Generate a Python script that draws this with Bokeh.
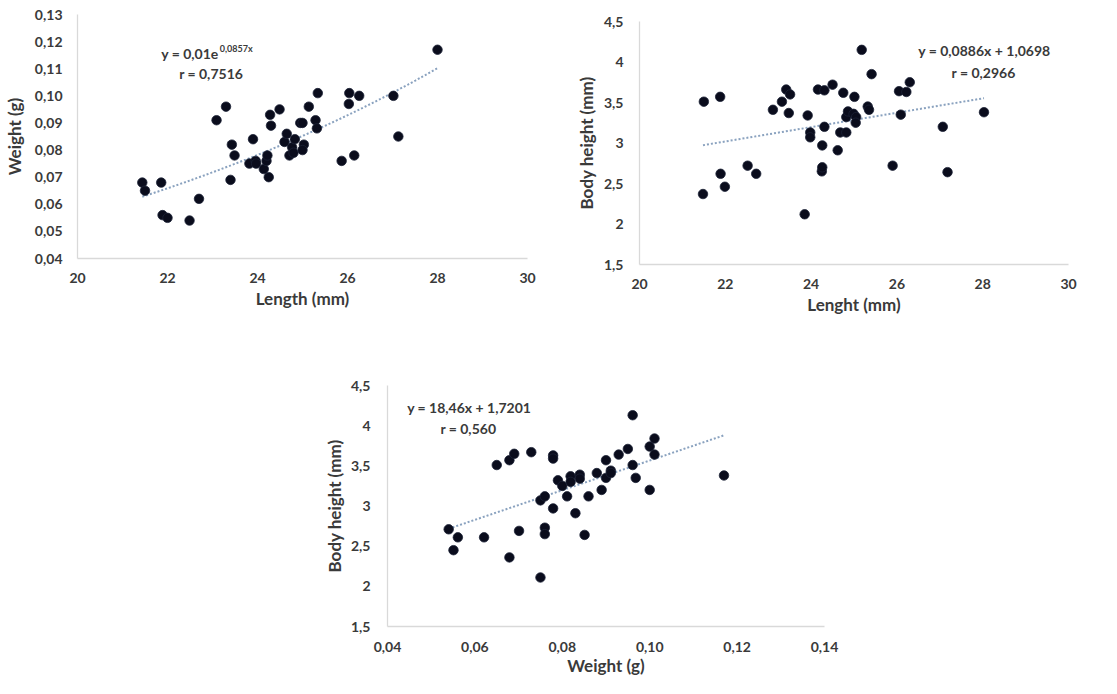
from bokeh.plotting import figure
from bokeh.layouts import column, row
from bokeh.models import Spacer, FixedTicker, Range1d, Label
from bokeh.embed import file_html
from bokeh.resources import INLINE

# ---------------- data ----------------
# Plot 1: Length (mm) vs Weight (g)
len1 = [21.44, 21.50, 21.86, 21.89, 22.00, 22.49, 22.70, 23.09, 23.30, 23.40,
        23.43, 23.49, 23.82, 23.90, 23.96, 23.97, 24.14, 24.20, 24.22, 24.25,
        24.28, 24.30, 24.49, 24.60, 24.65, 24.71, 24.77, 24.80, 24.83, 24.95,
        25.00, 25.03, 25.00, 25.14, 25.29, 25.32, 25.34, 25.87, 26.04, 26.03,
        26.15, 26.26, 27.02, 27.13, 28.00]
wt1 = [0.068, 0.065, 0.068, 0.056, 0.055, 0.054, 0.062, 0.091, 0.096, 0.069,
       0.082, 0.078, 0.075, 0.084, 0.076, 0.075, 0.073, 0.076, 0.078, 0.070,
       0.093, 0.089, 0.095, 0.083, 0.086, 0.078, 0.081, 0.079, 0.084, 0.090,
       0.090, 0.082, 0.080, 0.096, 0.091, 0.088, 0.101, 0.076, 0.101, 0.097,
       0.078, 0.100, 0.100, 0.085, 0.117]
exp_a, exp_b = 0.01, 0.0857          # y = 0,01e^(0,0857x)

# Plot 2: Length (mm) vs Body height (mm)
len2 = [21.50, 21.48, 21.88, 21.89, 21.99, 22.52, 22.72, 23.11, 23.32, 23.42,
        23.51, 23.48, 23.85, 23.92, 23.98, 23.98, 24.16, 24.25, 24.26, 24.26,
        24.31, 24.31, 24.50, 24.62, 24.68, 24.75, 24.82, 24.82, 24.86, 24.99,
        25.01, 25.05, 25.04, 25.18, 25.32, 25.35, 25.41, 25.90, 26.05, 26.09,
        26.22, 26.30, 27.07, 27.18, 28.03]
bh2 = [3.51, 2.37, 3.57, 2.62, 2.46, 2.72, 2.62, 3.41, 3.51, 3.66,
       3.60, 3.37, 2.12, 3.34, 3.13, 3.07, 3.66, 2.65, 2.70, 2.97,
       3.65, 3.20, 3.72, 2.91, 3.13, 3.62, 3.13, 3.32, 3.39, 3.36,
       3.57, 3.32, 3.25, 4.15, 3.45, 3.41, 3.85, 2.72, 3.64, 3.35,
       3.63, 3.75, 3.20, 2.64, 3.38]
lin2_a, lin2_b = 0.0886, 1.0698      # y = 0,0886x + 1,0698

# Plot 3: Weight (g) vs Body height (mm)
wt3 = [0.0540, 0.0551, 0.0561, 0.0621, 0.0650, 0.0679, 0.0679, 0.0690, 0.0701, 0.0729,
       0.0750, 0.0750, 0.0760, 0.0760, 0.0760, 0.0779, 0.0779, 0.0779, 0.0790, 0.0800,
       0.0811, 0.0819, 0.0819, 0.0830, 0.0840, 0.0840, 0.0851, 0.0860, 0.0879, 0.0890,
       0.0900, 0.0900, 0.0911, 0.0911, 0.0929, 0.0950, 0.0961, 0.0961, 0.0968, 0.1000,
       0.1000, 0.1011, 0.1011, 0.1170]
bh3 = [2.71, 2.45, 2.61, 2.61, 3.51, 3.57, 2.36, 3.65, 2.69, 3.67,
       3.07, 2.11, 3.12, 2.73, 2.65, 3.63, 3.59, 2.97, 3.32, 3.25,
       3.12, 3.37, 3.30, 2.91, 3.39, 3.34, 2.64, 3.12, 3.41, 3.20,
       3.57, 3.35, 3.44, 3.41, 3.64, 3.71, 4.13, 3.51, 3.35, 3.74,
       3.20, 3.84, 3.64, 3.38]
lin3_a, lin3_b = 18.46, 1.7201       # y = 18,46x + 1,7201

# ticks
x12_ticks = [20, 22, 24, 26, 28, 30]
x12_labels = ["20", "22", "24", "26", "28", "30"]
y1_ticks = [0.04, 0.05, 0.06, 0.07, 0.08, 0.09, 0.10, 0.11, 0.12, 0.13]
y1_labels = ["0,04", "0,05", "0,06", "0,07", "0,08", "0,09", "0,10", "0,11", "0,12", "0,13"]
bh_ticks = [1.5, 2, 2.5, 3, 3.5, 4, 4.5]
bh_labels = ["1,5", "2", "2,5", "3", "3,5", "4", "4,5"]
x3_ticks = [0.04, 0.06, 0.08, 0.10, 0.12, 0.14]
x3_labels = ["0,04", "0,06", "0,08", "0,10", "0,12", "0,14"]

eq1_main, eq1_sup, r1 = "y = 0,01e", "0,0857x", "r = 0,7516"
eq2, r2 = "y = 0,0886x + 1,0698", "r = 0,2966"
eq3, r3 = "y = 18,46x + 1,7201", "r = 0,560"

# ---------------- style ----------------
FONT = "Lato"
TICK_COL = "#3a3a3a"
AX_COL = "#d9d9d9"
DOT_FILL = "#0a0c1c"
TREND_COL = "#8aa2bf"


def make_fig(w, h, xr, yr, xt, xl, yt, yl, xlabel, ylabel, bl, br, bt, bb,
             xstand=14, ystand=15, ylab_stand=10, xlab_stand=2):
    p = figure(width=w, height=h, x_range=Range1d(*xr), y_range=Range1d(*yr),
               output_backend="svg", toolbar_location=None,
               min_border_left=bl, min_border_right=br,
               min_border_top=bt, min_border_bottom=bb)
    p.outline_line_color = None
    p.grid.visible = False
    p.xaxis.ticker = FixedTicker(ticks=xt)
    p.yaxis.ticker = FixedTicker(ticks=yt)
    p.xaxis.major_label_overrides = dict(zip(xt, xl))
    p.yaxis.major_label_overrides = dict(zip(yt, yl))
    for ax in (p.xaxis, p.yaxis):
        ax.axis_line_color = AX_COL
        ax.axis_line_width = 1.3
        ax.major_tick_line_color = None
        ax.minor_tick_line_color = None
        ax.major_tick_out = 0
        ax.major_tick_in = 0
        ax.minor_tick_out = 0
        ax.minor_tick_in = 0
        ax.major_label_text_font = FONT
        ax.major_label_text_font_style = "bold"
        ax.major_label_text_font_size = "14px"
        ax.major_label_text_color = TICK_COL
        ax.axis_label_text_font = FONT
        ax.axis_label_text_font_style = "bold"
        ax.axis_label_text_font_size = "17px"
        ax.axis_label_text_color = TICK_COL
    p.xaxis.major_label_standoff = xstand
    p.yaxis.major_label_standoff = ystand
    p.xaxis.axis_label = xlabel
    p.yaxis.axis_label = ylabel
    p.xaxis.axis_label_standoff = xlab_stand
    p.yaxis.axis_label_standoff = ylab_stand
    return p


def add_label(p, x, y, text, size="14px", align="center"):
    p.add_layout(Label(x=x, y=y, text=text, text_font=FONT, text_font_style="bold",
                       text_font_size=size, text_color=TICK_COL,
                       text_align=align, text_baseline="middle"))


def dots(p, xs, ys):
    p.scatter(xs, ys, size=9.5, fill_color=DOT_FILL, line_color="#1c2236", line_width=0.8)


# ---------- plot 1 ----------
p1 = make_fig(547, 312, (20, 30), (0.04, 0.13), x12_ticks, x12_labels, y1_ticks, y1_labels,
              "Length (mm)", "Weight (g)", bl=72, br=20, bt=14, bb=54,
              xstand=14, ystand=15, ylab_stand=7)
x1a, x1b = min(len1), max(len1)
tx1 = [x1a + (x1b - x1a) * i / 40 for i in range(41)]
ty1 = [exp_a * 2.718281828459045 ** (exp_b * v) for v in tx1]
p1.line(tx1, ty1, line_color=TREND_COL, line_width=2, line_dash="2 2")
dots(p1, len1, wt1)
add_label(p1, 21.86, 0.1156, eq1_main, align="left")
add_label(p1, 23.16, 0.1176, eq1_sup, size="9px", align="left")
add_label(p1, 22.97, 0.1082, r1)

# ---------- plot 2 ----------
p2 = make_fig(533, 311, (20, 30), (1.5, 4.5), x12_ticks, x12_labels, bh_ticks, bh_labels,
              "Lenght (mm)", "Body height (mm)", bl=92, br=12, bt=14, bb=54,
              xstand=14, ystand=16, ylab_stand=4)
x2a, x2b = min(len2), max(len2)
p2.line([x2a, x2b], [lin2_a * x2a + lin2_b, lin2_a * x2b + lin2_b],
        line_color=TREND_COL, line_width=2, line_dash="2 2")
dots(p2, len2, bh2)
add_label(p2, 28.04, 4.142, eq2)
add_label(p2, 28.02, 3.87, r2)

# ---------- plot 3 ----------
p3 = make_fig(554, 360, (0.04, 0.14), (1.5, 4.5), x3_ticks, x3_labels, bh_ticks, bh_labels,
              "Weight (g)", "Body height (mm)", bl=87, br=30, bt=67, bb=52,
              xstand=15, ystand=17, ylab_stand=3, xlab_stand=0)
x3a, x3b = min(wt3), max(wt3)
p3.line([x3a, x3b], [lin3_a * x3a + lin3_b, lin3_a * x3b + lin3_b],
        line_color=TREND_COL, line_width=2, line_dash="2 2")
dots(p3, wt3, bh3)
add_label(p3, 0.0587, 4.22, eq3)
add_label(p3, 0.0585, 3.96, r3)

layout = column(row(p1, column(Spacer(width=533, height=7), p2)),
                row(Spacer(width=300, height=360), p3))

open("out.html", "w").write(file_html(layout, INLINE))
